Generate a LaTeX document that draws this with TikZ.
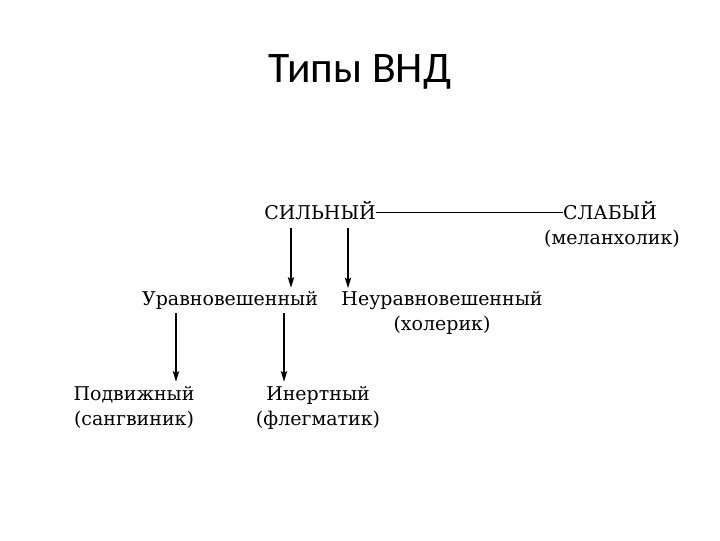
\documentclass[tikz,border=0pt]{standalone}
\usepackage{fontspec}
\setmainfont{DejaVu Serif}
\newfontfamily\titlefont{Carlito}
\usetikzlibrary{arrows.meta}

\begin{document}
\begin{tikzpicture}[x=0.025cm,y=-0.025cm,
		lbl/.style={anchor=base,align=center,inner sep=0pt,font=\fontsize{13.5}{17.5}\selectfont},
		arr/.style={-{Stealth[length=7.5pt,width=4.5pt,inset=1.5pt]},line width=1.1pt}]
	\useasboundingbox (0,0) rectangle (720,540);
	\node[anchor=base,inner sep=0pt,font=\titlefont\fontsize{31}{36}\selectfont] (title) at (360,82) {Типы ВНД};
	\node[lbl] (strong) at (320,219) {СИЛЬНЫЙ};
	\node[lbl] (weak)   at (610,219) {СЛАБЫЙ};
	\node[lbl] (melan)  at (612,244) {(меланхолик)};
	\node[lbl] (bal)    at (230,305) {Уравновешенный};
	\node[lbl] (unbal)  at (442,330) {Неуравновешенный\\(холерик)};
	\node[lbl] (mob)    at (134,425) {Подвижный\\(сангвиник)};
	\node[lbl] (inert)  at (318,425) {Инертный\\(флегматик)};
	% strong -- weak
	\draw[line width=0.7pt] ([yshift=-1.5pt]strong.east) -- ([yshift=-1.5pt]weak.west);
	% strong -> balanced / unbalanced
	\draw[arr,shorten <=6pt,shorten >=2pt] ([xshift=-0.725cm]strong.south) -- ([xshift=-0.725cm]strong.south |- bal.north);
	\draw[arr,shorten <=6pt,shorten >=2pt] ([xshift=0.7cm]strong.south) -- ([xshift=0.7cm]strong.south |- unbal.north);
	% balanced -> mobile / inert
	\draw[arr,shorten <=3pt,shorten >=3pt] ([xshift=-1.35cm]bal.south) -- ([xshift=-1.35cm]bal.south |- mob.north);
	\draw[arr,shorten <=3pt,shorten >=3pt] ([xshift=1.35cm]bal.south) -- ([xshift=1.35cm]bal.south |- inert.north);
\end{tikzpicture}
\end{document}
